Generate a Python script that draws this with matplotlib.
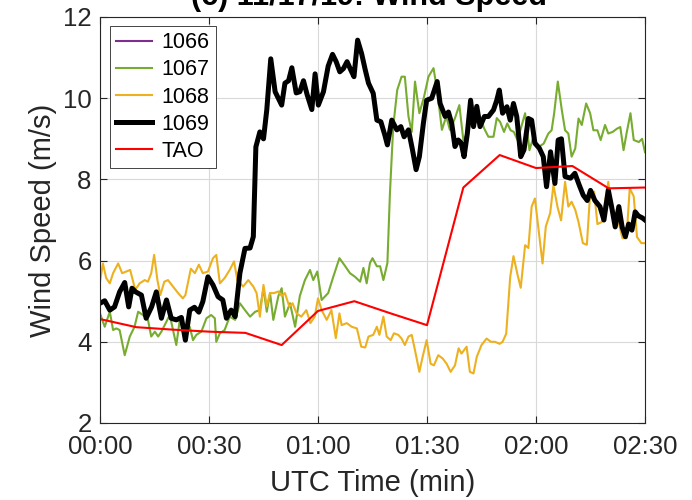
import numpy as np
import matplotlib
matplotlib.use("Agg")
import matplotlib.pyplot as plt

plt.rcParams["font.family"] = ["Liberation Sans", "DejaVu Sans"]

# ---- TAO buoy (10 min) ----
t_tao = [0, 10, 20, 30, 40, 50, 60, 70, 80, 90, 100, 110, 120, 130, 140, 150]
ws_tao = [4.56, 4.36, 4.30, 4.25, 4.22, 3.92, 4.76, 5.00, 4.70, 4.41,
          7.80, 8.60, 8.28, 8.33, 7.78, 7.80]

# ---- 1069 ----
t_1069 = [0, 1.3, 2.7, 4, 5.4, 6.8, 7.9, 8.8, 9.8, 11.4, 12.7, 14.2, 15.5, 16.9,
          18.3, 19.6, 21, 22.4, 23.5, 24.7, 26, 27.2, 28.3, 29.7, 31.1, 32.5,
          33.8, 34.8, 36.1, 37.2, 38.5, 39.9, 41.3, 42.2, 42.9, 44, 45, 45.9,
          47, 48.2, 50, 50.9, 51.9, 52.8, 54, 55, 56, 57, 58.3, 59.2, 60.1,
          61.5, 62.8, 64, 65, 66, 67, 68, 69, 69.9, 70.9, 72, 73, 73.9, 75.2,
          76.2, 77.3, 78.4, 79.1, 80.3, 81.7, 82.8, 83.7, 84.9, 86, 87, 87.9,
          89, 89.9, 91.3, 92.8, 93.6, 95, 95.9, 96.8, 97.7, 98.6, 99.4, 100.2,
          101.1, 102, 102.8, 103.7, 104.6, 105.8, 106.9, 108.3, 109.2, 109.9,
          110.8, 112, 112.9, 113.8, 114.7, 115.8, 116.7, 117.9, 118.8, 119.7,
          120.9, 122, 122.9, 124, 125.2, 126.1, 127, 128, 129.5, 130.7, 131.9,
          133, 134.1, 135, 136.2, 137.6, 138.7, 139.9, 140.8, 141.8, 142.8,
          143.7, 144.6, 145.5, 146.4, 147.3, 148.2, 149.3, 150]
ws_1069 = [4.95, 5.01, 4.78, 4.86, 5.23, 5.46, 4.86, 5.32, 5.23, 5.15, 4.58, 4.86,
           5.23, 4.58, 5.03, 4.58, 4.54, 4.60, 4.04, 4.78, 4.85, 4.73, 4.99, 5.60,
           5.40, 5.11, 5.03, 4.58, 4.78, 4.62, 5.69, 6.30, 6.31, 6.59, 8.80, 9.17,
           9.00, 9.71, 10.97, 10.16, 9.83, 10.37, 10.43, 10.75, 10.13, 10.16,
           10.43, 10.09, 9.72, 10.60, 9.83, 10.16, 10.79, 11.08, 10.90, 10.65,
           10.73, 10.90, 10.70, 10.53, 11.43, 11.10, 10.70, 10.37, 10.12, 9.46,
           9.42, 9.09, 8.85, 9.46, 9.22, 9.30, 9.05, 9.22, 8.73, 8.24, 8.56, 9.38,
           9.95, 10.00, 10.41, 9.87, 9.55, 9.66, 9.38, 8.81, 8.97, 8.90, 8.56,
           9.13, 9.95, 9.30, 9.80, 9.30, 9.55, 9.55, 9.71, 9.95, 10.20, 9.63,
           9.79, 9.46, 9.87, 9.55, 8.56, 8.73, 9.50, 9.46, 8.89, 8.77, 8.56, 7.82,
           8.68, 7.90, 8.97, 9.00, 8.07, 8.03, 8.15, 7.86, 7.61, 7.48, 7.73, 7.48,
           7.33, 7.00, 7.74, 7.33, 6.83, 7.33, 6.83, 6.59, 6.90, 6.75, 7.20, 7.10,
           7.05, 7.00]

# ---- 1067 ----
t_1067 = [0, 1.3, 2.7, 3.6, 4.5, 5.4, 6.8, 8.2, 9.5, 10.5, 11.8, 13.2, 14.1, 15.1,
          16, 16.9, 17.8, 19.2, 20.1, 21, 21.9, 23.3, 24.7, 25.6, 26.5, 27.9,
          29.3, 30.6, 31.6, 32, 33, 34.3, 35.7, 37.2, 38.5, 39.9, 41.3, 42.7,
          44, 45, 45.9, 46.8, 47.7, 49.1, 50, 50.9, 52.3, 53.7, 55, 56.4, 57.8,
          58.7, 59.8, 61, 62.8, 64.2, 65.9, 67.5, 68.8, 70.2, 71.6, 72.5, 73.4,
          74.3, 75, 76.2, 77.1, 78, 79.1, 79.8, 80.7, 81.8, 83, 83.9, 84.9, 85.8,
          86.7, 87.9, 89.2, 90.4, 91.8, 92.9, 94.1, 95.3, 96.3, 97.7, 98.9, 100,
          101.1, 102.3, 103.2, 104.6, 105.7, 106.9, 108.3, 109.2, 110.1, 111.2,
          112.1, 113, 113.9, 114.9, 116.1, 117, 118.2, 119.3, 120.7, 122.1, 123.4,
          124.3, 125, 126, 127.1, 128, 128.9, 129.8, 130.8, 131.7, 132.6, 133.8,
          134.9, 135.8, 136.9, 137.8, 139, 139.9, 141.1, 142.3, 143.2, 144.1,
          145, 146, 146.9, 148.3, 149.2, 150]
ws_1067 = [4.70, 4.37, 4.74, 4.29, 4.33, 4.29, 3.67, 4.13, 4.37, 4.74, 4.66, 4.54,
           4.13, 4.25, 4.13, 4.25, 4.41, 4.66, 4.29, 3.92, 4.50, 4.29, 4.37, 4.04,
           4.17, 4.25, 4.58, 4.66, 4.58, 4.00, 4.21, 4.29, 4.62, 4.54, 4.95, 4.78,
           4.62, 4.74, 4.78, 5.32, 4.74, 5.20, 4.54, 5.13, 5.32, 4.62, 4.95, 4.37,
           5.13, 5.52, 5.77, 5.52, 5.73, 5.03, 5.20, 5.60, 6.06, 5.86, 5.69, 5.60,
           5.48, 5.82, 5.44, 5.94, 6.06, 5.86, 5.86, 5.52, 5.94, 7.66, 9.30, 10.20,
           10.53, 10.53, 9.55, 9.17, 10.41, 9.63, 10.04, 10.53, 10.74, 10.12, 9.22,
           9.55, 9.22, 9.51, 9.83, 8.97, 9.13, 9.51, 9.38, 9.55, 9.26, 9.05, 9.05,
           9.51, 9.42, 9.17, 9.38, 9.21, 9.17, 8.97, 9.34, 9.63, 8.72, 9.05, 8.80,
           8.88, 9.13, 9.21, 9.63, 10.41, 9.71, 9.21, 9.13, 8.56, 8.76, 9.50, 9.34,
           9.87, 9.63, 9.21, 9.21, 8.97, 9.34, 9.13, 9.17, 9.25, 9.29, 8.72, 9.17,
           9.63, 8.97, 8.92, 9.00, 8.67]

# ---- 1068 ----
t_1068 = [0, 0.8, 1.7, 2.7, 3.6, 5, 6.1, 7.2, 8.3, 9.7, 10.9, 12.3, 13.2, 14.1,
          14.9, 15.8, 16.6, 17.7, 18.7, 20.1, 21.5, 22.8, 23.5, 25, 26.1, 27.2,
          28.3, 29.7, 31.1, 32, 33, 34.3, 35.7, 36.9, 37.8, 39.4, 40.8, 42.2,
          43.1, 44, 45, 45.9, 46.8, 47.9, 49.1, 50, 50.9, 52.1, 53, 54.1, 55.4,
          56.8, 57.9, 59.1, 60, 61, 62.4, 63.7, 64.9, 65.9, 66.5, 67.9, 69.3,
          70.7, 71.9, 73, 73.9, 75.2, 76.2, 76.9, 78, 78.9, 80, 80.9, 82.1, 83,
          83.9, 84.9, 85.8, 86.7, 87.9, 88.8, 89.9, 91, 91.9, 93.1, 94.3, 95.4,
          96.5, 97.7, 98.7, 99.5, 100.9, 101.8, 102.8, 103.7, 105, 106.4, 107.6,
          108.7, 110, 110.8, 111.8, 112.9, 113.8, 114.9, 115.8, 117, 117.9,
          118.8, 119.7, 120.6, 121.8, 122.7, 123.9, 124.8, 125.9, 126.9, 128,
          128.9, 129.8, 130.8, 131.7, 132.9, 134, 134.9, 136, 136.9, 138.1, 139,
          139.9, 140.5, 141.5, 142.6, 143.8, 144.9, 145.8, 146.9, 147.8, 149, 150]
ws_1068 = [5.48, 5.93, 5.57, 5.44, 5.69, 5.93, 5.69, 5.73, 5.77, 5.28, 5.44, 5.52,
           5.48, 5.69, 6.14, 5.52, 5.15, 5.48, 5.52, 5.36, 5.20, 5.07, 5.15, 5.80,
           5.69, 5.90, 5.69, 5.73, 6.06, 6.14, 5.44, 5.57, 5.77, 5.98, 5.52, 5.36,
           5.52, 5.36, 5.20, 4.62, 5.40, 4.87, 5.20, 5.20, 5.24, 5.13, 5.20, 4.87,
           4.95, 4.70, 4.62, 4.78, 4.46, 4.62, 5.07, 4.78, 4.54, 4.78, 4.09, 4.70,
           4.41, 4.46, 4.37, 4.33, 3.88, 3.86, 4.13, 4.17, 4.37, 4.17, 4.62, 4.13,
           4.04, 4.21, 4.17, 4.08, 3.92, 4.13, 4.17, 3.79, 3.26, 3.63, 4.04, 3.46,
           3.42, 3.67, 3.59, 3.46, 3.26, 3.42, 3.84, 3.71, 3.88, 3.26, 3.22, 3.63,
           3.92, 4.08, 4.00, 4.00, 3.95, 4.00, 4.20, 5.60, 6.11, 5.66, 5.33, 6.38,
           6.31, 7.33, 7.53, 6.84, 5.93, 6.84, 7.17, 7.86, 7.33, 6.99, 7.94, 7.33,
           7.45, 7.25, 6.95, 6.43, 6.39, 7.66, 7.70, 6.90, 6.95, 7.45, 7.94, 7.50,
           7.17, 7.00, 6.55, 6.55, 7.78, 7.58, 6.58, 6.43, 6.43]

x_ticks = [0, 30, 60, 90, 120, 150]
x_ticklabels = ["00:00", "00:30", "01:00", "01:30", "02:00", "02:30"]
y_ticks = [2, 4, 6, 8, 10, 12]

c_1066 = "#7E2F8E"
c_1067 = "#77AC30"
c_1068 = "#EDB120"
axc = "#262626"

fig = plt.figure(figsize=(6.92, 5.0), dpi=100)
ax = fig.add_axes([100 / 692, 77 / 500, 545 / 692, 406 / 500])

ax.plot([], [], color=c_1066, lw=1.5, label="1066")
ax.plot(t_1067, ws_1067, color=c_1067, lw=1.5, label="1067")
ax.plot(t_1068, ws_1068, color=c_1068, lw=1.5, label="1068")
ax.plot(t_1069, ws_1069, color="black", lw=3.6, label="1069")
ax.plot(t_tao, ws_tao, color="#FF0000", lw=1.5, label="TAO")

ax.set_xlim(0, 150)
ax.set_ylim(2, 12)
ax.set_xticks(x_ticks)
ax.set_xticklabels(x_ticklabels)
ax.set_yticks(y_ticks)
ax.grid(True, color="#d9d9d9", lw=0.8)
ax.set_axisbelow(True)
ax.tick_params(direction="in", length=5, width=0.8, top=True, right=True,
               labelsize=18.5, colors=axc)
ax.tick_params(axis="x", pad=9)
ax.tick_params(axis="y", pad=6)
for sp in ax.spines.values():
    sp.set_color(axc)
    sp.set_linewidth(0.8)

ax.set_xlabel("UTC Time (min)", fontsize=21, color=axc, labelpad=7)
ax.set_ylabel("Wind Speed (m/s)", fontsize=21, color=axc, labelpad=4)

fig.text(369 / 692, 1 - 5 / 500, "(c) 11/17/19: Wind Speed", fontsize=22,
         fontweight="bold", ha="center", va="baseline", color="black")

leg = ax.legend(loc="upper left", bbox_to_anchor=(10 / 545, 397 / 406),
                borderaxespad=0, fontsize=15.5, handlelength=1.65,
                handletextpad=0.45, labelspacing=0.28, borderpad=0.3,
                fancybox=False, framealpha=1, edgecolor=axc)
leg.get_frame().set_linewidth(0.6)

fig.savefig("out.png", dpi=100)
